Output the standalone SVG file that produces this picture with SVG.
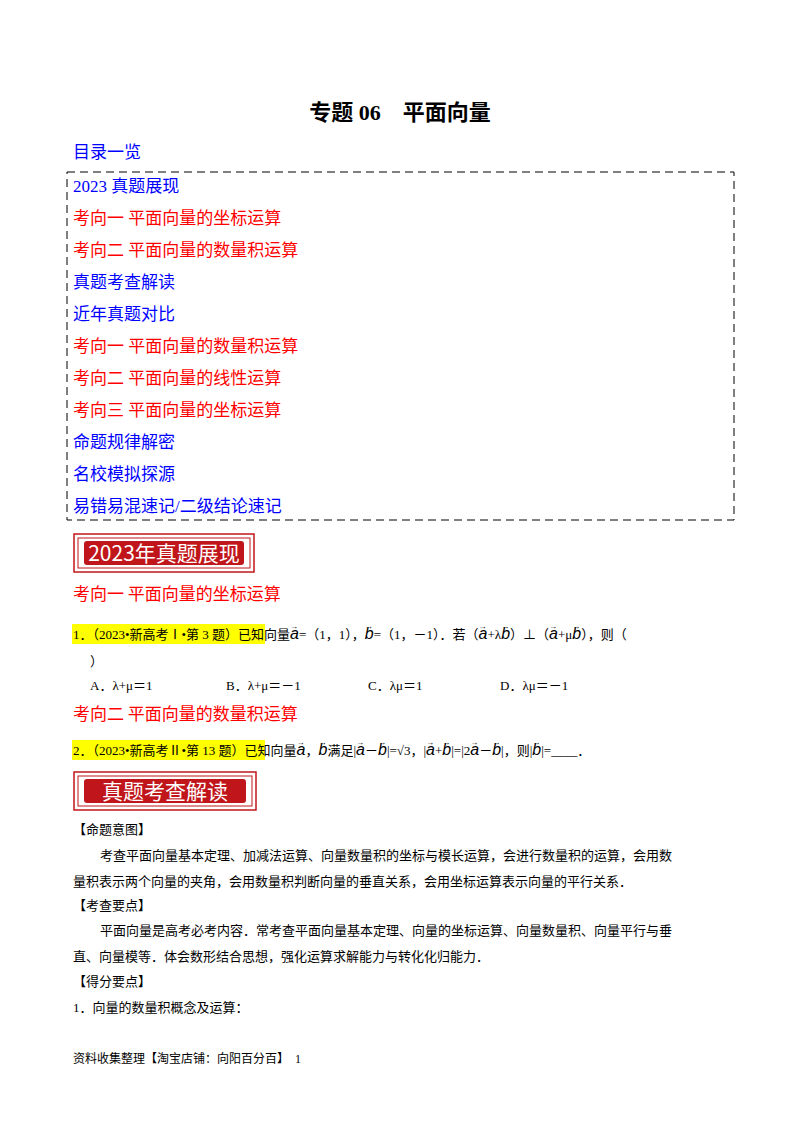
<svg xmlns="http://www.w3.org/2000/svg" width="800" height="1132" viewBox="0 0 800 1132">
<style>
text{font-family:"Liberation Serif","Noto Sans CJK SC",serif;fill:#000}
.h{font-family:"Noto Sans CJK SC",sans-serif;font-size:17px}
.blue{fill:#0000ff}.red{fill:#ff0000}
.q{font-size:13px}
.v{font-family:"Liberation Sans",sans-serif;font-style:italic;font-size:16px}
.ar{font-size:8px;font-family:"Liberation Sans",sans-serif}
.ban{fill:#c0161b}
.bt{font-family:"Noto Sans CJK SC",sans-serif;fill:#fff;font-size:21px}
</style>
<rect width="800" height="1132" fill="#fff"/>
<text x="400" y="120" text-anchor="middle" font-size="22" font-weight="bold" font-family="Liberation Serif,Noto Sans CJK SC,serif">专题 06　平面向量</text>
<text class="h blue" x="73" y="158">目录一览</text>
<rect x="67" y="172" width="667" height="348" fill="none" stroke="#000" stroke-dasharray="8,5" stroke-width="1"/>
<g class="h">
<text class="blue" x="73" y="192">2023 真题展现</text>
<text class="red" x="73" y="224">考向一 平面向量的坐标运算</text>
<text class="red" x="73" y="256">考向二 平面向量的数量积运算</text>
<text class="blue" x="73" y="288">真题考查解读</text>
<text class="blue" x="73" y="320">近年真题对比</text>
<text class="red" x="73" y="352">考向一 平面向量的数量积运算</text>
<text class="red" x="73" y="384">考向二 平面向量的线性运算</text>
<text class="red" x="73" y="416">考向三 平面向量的坐标运算</text>
<text class="blue" x="73" y="448">命题规律解密</text>
<text class="blue" x="73" y="480">名校模拟探源</text>
<text class="blue" x="73" y="512">易错易混速记/二级结论速记</text>
</g>
<g id="banner1">
<rect x="74" y="534" width="180" height="38" fill="none" stroke="#c0161b" stroke-width="1.5"/>
<rect x="78" y="538" width="172" height="30" fill="none" stroke="#c0161b" stroke-width="1"/>
<rect class="ban" x="84" y="541" width="160" height="24" rx="3"/>
<text class="bt" x="164" y="561" text-anchor="middle">2023年真题展现</text>
</g>
<text class="h red" x="73" y="600">考向一 平面向量的坐标运算</text>
<rect x="72" y="624" width="193" height="20" fill="#ffff00"/>
<text class="q" x="73" y="639">1．（2023•新高考Ⅰ•第 3 题）已知向量<tspan class="ar" dy="-10">→</tspan><tspan class="v" dx="-8" dy="10">a</tspan>=（1，1），<tspan class="ar" dy="-10">→</tspan><tspan class="v" dx="-8" dy="10">b</tspan>=（1，－1）．若（<tspan class="ar" dy="-10">→</tspan><tspan class="v" dx="-8" dy="10">a</tspan>+λ<tspan class="ar" dy="-10">→</tspan><tspan class="v" dx="-8" dy="10">b</tspan>）⊥（<tspan class="ar" dy="-10">→</tspan><tspan class="v" dx="-8" dy="10">a</tspan>+μ<tspan class="ar" dy="-10">→</tspan><tspan class="v" dx="-8" dy="10">b</tspan>），则（</text>
<text class="q" x="90" y="666">）</text>
<text class="q" y="690"><tspan x="90">A．λ+μ＝1</tspan><tspan x="226">B．λ+μ＝－1</tspan><tspan x="368">C．λμ＝1</tspan><tspan x="500">D．λμ＝－1</tspan></text>
<text class="h red" x="73" y="720">考向二 平面向量的数量积运算</text>
<rect x="72" y="740" width="193" height="20" fill="#ffff00"/>
<text class="q" x="73" y="755">2．（2023•新高考Ⅱ•第 13 题）已知向量<tspan class="ar" dy="-10">→</tspan><tspan class="v" dx="-8" dy="10">a</tspan>，<tspan class="ar" dy="-10">→</tspan><tspan class="v" dx="-8" dy="10">b</tspan>满足|<tspan class="ar" dy="-10">→</tspan><tspan class="v" dx="-8" dy="10">a</tspan>－<tspan class="ar" dy="-10">→</tspan><tspan class="v" dx="-8" dy="10">b</tspan>|=√3，|<tspan class="ar" dy="-10">→</tspan><tspan class="v" dx="-8" dy="10">a</tspan>+<tspan class="ar" dy="-10">→</tspan><tspan class="v" dx="-8" dy="10">b</tspan>|=|2<tspan class="ar" dy="-10">→</tspan><tspan class="v" dx="-8" dy="10">a</tspan>－<tspan class="ar" dy="-10">→</tspan><tspan class="v" dx="-8" dy="10">b</tspan>|，则|<tspan class="ar" dy="-10">→</tspan><tspan class="v" dx="-8" dy="10">b</tspan>|=____．</text>
<g id="banner2">
<rect x="74" y="772" width="182" height="38" fill="none" stroke="#c0161b" stroke-width="1.5"/>
<rect x="78" y="776" width="174" height="30" fill="none" stroke="#c0161b" stroke-width="1"/>
<rect class="ban" x="84" y="779" width="162" height="24" rx="3"/>
<text class="bt" x="165" y="799" text-anchor="middle">真题考查解读</text>
</g>
<g class="q">
<text x="73" y="834">【命题意图】</text>
<text x="100" y="860">考查平面向量基本定理、加减法运算、向量数量积的坐标与模长运算，会进行数量积的运算，会用数</text>
<text x="73" y="886">量积表示两个向量的夹角，会用数量积判断向量的垂直关系，会用坐标运算表示向量的平行关系．</text>
<text x="73" y="910">【考查要点】</text>
<text x="100" y="935">平面向量是高考必考内容．常考查平面向量基本定理、向量的坐标运算、向量数量积、向量平行与垂</text>
<text x="73" y="961">直、向量模等．体会数形结合思想，强化运算求解能力与转化化归能力．</text>
<text x="73" y="986">【得分要点】</text>
<text x="73" y="1012">1．向量的数量积概念及运算：</text>
</g>
<text x="73" y="1063" font-size="12">资料收集整理【淘宝店铺：向阳百分百】　1</text>
</svg>
